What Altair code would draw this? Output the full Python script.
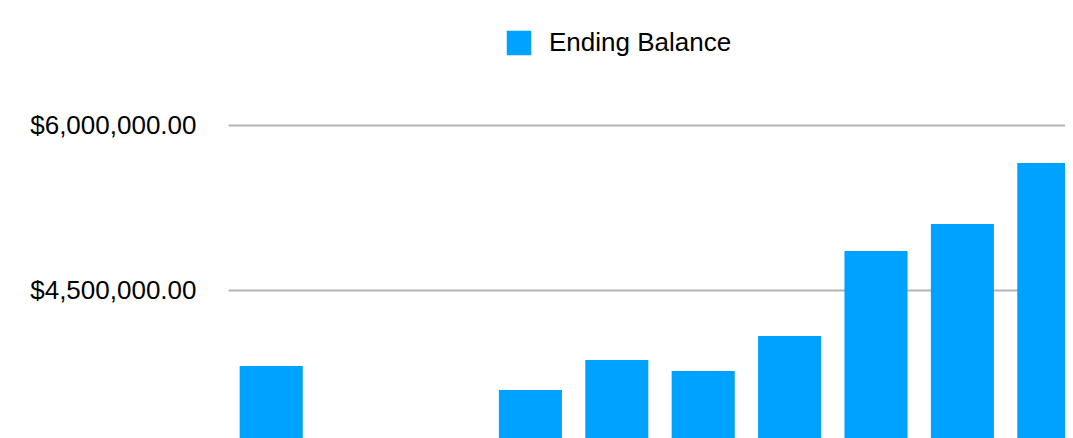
import altair as alt
import pandas as pd

categories = ["Year 1", "Year 2", "Year 3", "Year 4", "Year 5",
              "Year 6", "Year 7", "Year 8", "Year 9", "Year 10"]
ending_balance = [3809000, None, None, 3591000, 3864000,
                  3764000, 4082000, 4855000, 5100000, 5655000]
series_name = ["Ending Balance"] * len(categories)
tick_values = [4500000, 6000000]

df = pd.DataFrame({"period": categories, "balance": ending_balance, "series": series_name})

FONT = "Liberation Sans"

chart = alt.Chart(df).mark_bar(clip=True).encode(
    x=alt.X("period:N", sort=categories, axis=None,
            scale=alt.Scale(domain=categories, range=[0, 864],
                            paddingInner=0.27, paddingOuter=0.135)),
    y=alt.Y("balance:Q", title=None,
            scale=alt.Scale(domain=[3000000, 6500000], zero=False, nice=False),
            axis=alt.Axis(values=tick_values, format="$,.2f", domain=False, ticks=False,
                          tickSize=0, labelPadding=32, labelFont=FONT, labelFontSize=26,
                          labelColor="#000000", gridColor="#b4b4b4", gridWidth=2)),
    color=alt.Color("series:N", title=None,
                    scale=alt.Scale(domain=["Ending Balance"], range=["#00A2FF"]),
                    legend=alt.Legend(orient="none", legendX=278, legendY=-40,
                                      symbolType="square", symbolSize=600,
                                      symbolStrokeWidth=0, symbolOpacity=1,
                                      labelFont=FONT, labelFontSize=26, labelColor="#000000",
                                      labelOffset=17, labelLimit=400, padding=0)),
).properties(
    width=837, height=385,
    autosize=alt.AutoSizeParams(type="none"),
    padding={"left": 220, "top": 62, "right": 0, "bottom": 0},
).configure_view(stroke=None)

chart.save("out.html", embed_options={"renderer": "svg", "actions": False})
